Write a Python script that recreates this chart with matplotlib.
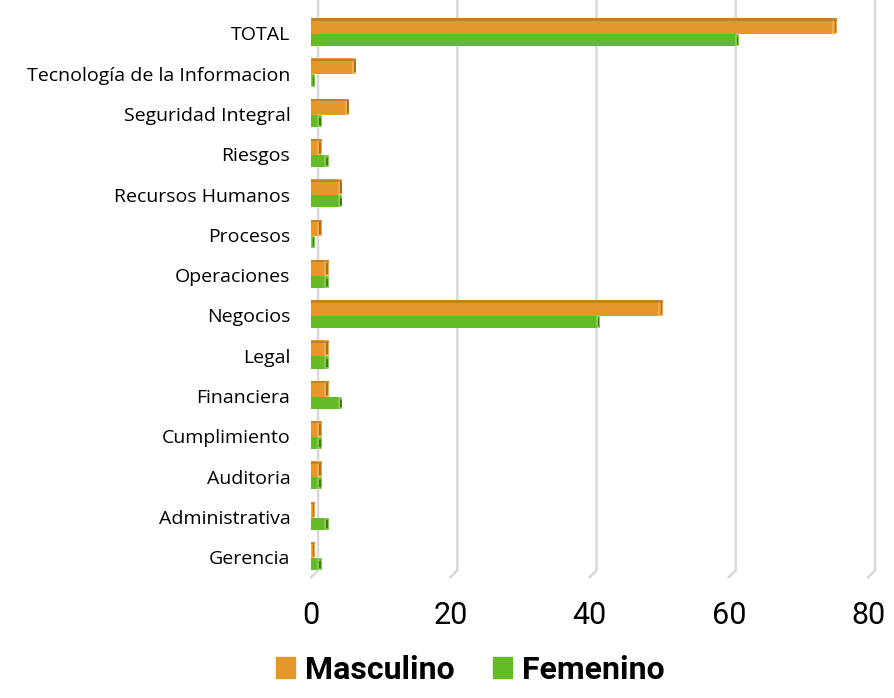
import numpy as np
from matplotlib import pyplot as plt
from matplotlib.patches import Patch

plt.rcParams['font.family'] = ['Open Sans', 'DejaVu Sans']

areas = ['Gerencia', 'Administrativa', 'Auditoria', 'Cumplimiento', 'Financiera',
         'Legal', 'Negocios', 'Operaciones', 'Procesos', 'Recursos Humanos',
         'Riesgos', 'Seguridad Integral', 'Tecnología de la Informacion', 'TOTAL']
masculino = [0, 0, 1, 1, 2, 2, 50, 2, 1, 4, 1, 5, 6, 75]
femenino = [1, 2, 1, 1, 4, 2, 41, 2, 0, 4, 2, 1, 0, 61]
ticks = [0, 20, 40, 60, 80]

c_m, c_m_dark = '#E5972A', '#B06F17'
c_f, c_f_dark = '#64BB26', '#3B7E12'

fig = plt.figure(figsize=(8.94, 6.98), dpi=100)
ax = fig.add_axes([0.348, 0.173, 0.623, 0.808])

y = np.arange(len(areas))
cap = 0.5  # profundidad del efecto 3D

# lineas de cuadricula con "suelo" en perspectiva
for t in ticks:
    ax.plot([t, t + 1, t + 1], [-0.5, -0.33, 13.85], color='#D9D9D9',
            lw=1.8, clip_on=False, zorder=0)

for vals, col, dark, base, h in [(masculino, c_m, c_m_dark, y - 0.02, 0.40),
                                 (femenino, c_f, c_f_dark, y - 0.32, 0.30)]:
    vals = np.array(vals)
    ax.barh(base, vals, height=h, left=0, align='edge', color=col, zorder=2)
    ax.barh(base, cap, height=h, left=vals, align='edge', color=col,
            edgecolor='white', linewidth=0.3, zorder=2)
    ax.barh(base + 0.05, 0.18, height=h - 0.12, left=vals + 0.2, align='edge',
            color=dark, zorder=3)
    if col == c_m:
        ax.barh(base + h - 0.06, vals + cap, height=0.05, left=0, align='edge',
                color=dark, alpha=0.6, zorder=3)

ax.set_xlim(0, 80)
ax.set_ylim(-0.5, 13.5)
ax.set_yticks(y)
ax.set_yticklabels(areas, fontsize=14)
ax.set_xticks(ticks)
ax.set_xticklabels([str(t) for t in ticks], fontsize=22, family=['Roboto'])
ax.tick_params(axis='y', length=0, pad=15)
ax.tick_params(axis='x', length=0, pad=17)
for s in ax.spines.values():
    s.set_visible(False)

fig.legend(handles=[Patch(color=c_m, label='Masculino'),
                    Patch(color=c_f, label='Femenino')],
           loc='lower center', bbox_to_anchor=(0.526, -0.004), ncol=2,
           frameon=False, prop={'size': 23, 'weight': 'bold', 'family': 'Roboto'},
           handlelength=0.6, handleheight=0.6, handletextpad=0.3,
           columnspacing=1.2, borderpad=0)

fig.savefig('out.png', dpi=100)
